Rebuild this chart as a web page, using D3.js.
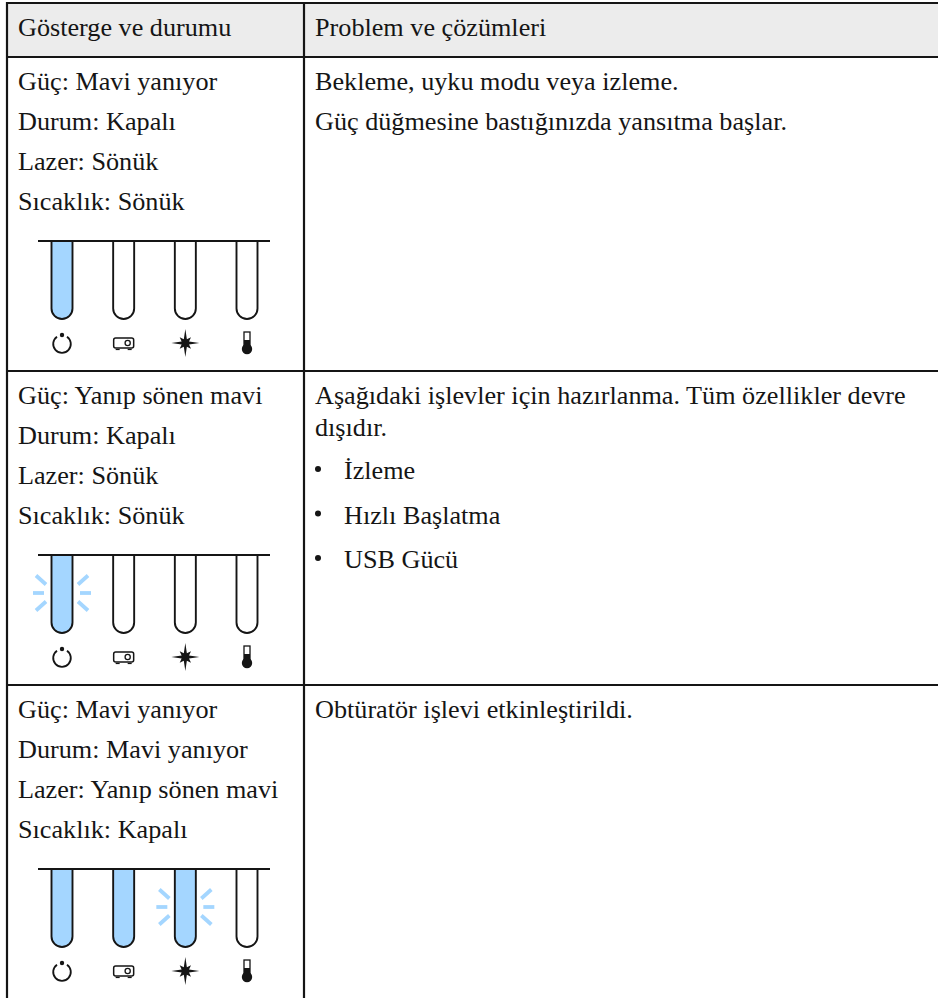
<!DOCTYPE html>
<html>
<head>
<meta charset="utf-8">
<script src="https://cdn.jsdelivr.net/npm/d3@7"></script>
<style>
html, body { margin: 0; padding: 0; background: #fff; }
svg { display: block; }
text { font-family: "Liberation Serif", serif; font-size: 26.2px; fill: #151515; }
</style>
</head>
<body>
<div id="chart"></div>
<script>
// table content
var headers = ["Gösterge ve durumu", "Problem ve çözümleri"];
var statusLines = [
  ["Güç: Mavi yanıyor", "Durum: Kapalı", "Lazer: Sönük", "Sıcaklık: Sönük"],
  ["Güç: Yanıp sönen mavi", "Durum: Kapalı", "Lazer: Sönük", "Sıcaklık: Sönük"],
  ["Güç: Mavi yanıyor", "Durum: Mavi yanıyor", "Lazer: Yanıp sönen mavi", "Sıcaklık: Kapalı"]
];
var problemLines = [
  ["Bekleme, uyku modu veya izleme.", "Güç düğmesine bastığınızda yansıtma başlar."],
  ["Aşağıdaki işlevler için hazırlanma. Tüm özellikler devre", "dışıdır."],
  ["Obtüratör işlevi etkinleştirildi."]
];
var bulletLines = [[], ["İzleme", "Hızlı Başlatma", "USB Gücü"], []];

// indicator states, one per lamp: 0 off, 1 on, 2 flashing
var leds = ["power", "status", "laser", "temp"];
var ledStates = [
  [1, 0, 0, 0],
  [2, 0, 0, 0],
  [1, 1, 2, 0]
];

var width = 938, height = 998;
var blue = "#a4d6ff", ink = "#151515";

var rowTop = [57, 371, 685];
var textTop = [90, 404, 718];
var diagramTop = [241, 555, 869];

var x = d3.scalePoint().domain(leds).range([62, 247]);

var svg = d3.select("#chart").append("svg")
  .attr("width", width)
  .attr("height", height);

// header band
svg.append("rect")
  .attr("x", 7).attr("y", 3)
  .attr("width", width - 7).attr("height", 54)
  .attr("fill", "#ececec");

// grid lines
function rule(x1, y1, x2, y2) {
  svg.append("line")
    .attr("x1", x1).attr("y1", y1).attr("x2", x2).attr("y2", y2)
    .attr("stroke", ink).attr("stroke-width", 2.2);
}
rule(6, 3, width, 3);
rowTop.forEach(function(y) { rule(6, y, width, y); });
rule(7, 2, 7, height);
rule(304, 2, 304, height);

// text
svg.append("text").attr("x", 18).attr("y", 36).text(headers[0]);
svg.append("text").attr("x", 315).attr("y", 36).text(headers[1]);

statusLines.forEach(function(lines, r) {
  svg.selectAll(null).data(lines).enter().append("text")
    .attr("x", 18)
    .attr("y", function(d, i) { return textTop[r] + i * 40; })
    .text(function(d) { return d; });
});

problemLines.forEach(function(lines, r) {
  var step = r == 1 ? 32 : 40;
  svg.selectAll(null).data(lines).enter().append("text")
    .attr("x", 315)
    .attr("y", function(d, i) { return textTop[r] + i * step; })
    .text(function(d) { return d; });
  bulletLines[r].forEach(function(d, i) {
    var y = textTop[r] + 75 + i * 44.5;
    svg.append("circle").attr("cx", 318).attr("cy", y - 10).attr("r", 3).attr("fill", ink);
    svg.append("text").attr("x", 344).attr("y", y).text(d);
  });
});

// one lamp tube hanging off the top line
function tubePath(cx, top) {
  var r = 10.5, bottom = top + 78;
  return "M" + (cx - r) + "," + top + "V" + (bottom - r) +
    "A" + r + "," + r + " 0 0 0 " + (cx + r) + "," + (bottom - r) + "V" + top;
}

// blink rays either side of a tube
function flash(g, cx, top) {
  var cy = top + 38;
  [-1, 1].forEach(function(side) {
    [[18, 29, 0, 0], [16, 26, -8.5, -17.5], [16, 26, 8.5, 17.5]].forEach(function(s) {
      g.append("line")
        .attr("x1", cx + side * s[0]).attr("y1", cy + s[2])
        .attr("x2", cx + side * s[1]).attr("y2", cy + s[3])
        .attr("stroke", blue).attr("stroke-width", 3.8);
    });
  });
}

// small icons under the tubes
function powerIcon(g, cx, cy) {
  g.append("path").attr("d", d3.arc().innerRadius(8.8).outerRadius(8.8)
      .startAngle(0.6).endAngle(2 * Math.PI - 0.6)())
    .attr("transform", "translate(" + cx + "," + (cy + 1) + ")")
    .attr("fill", "none").attr("stroke", ink).attr("stroke-width", 1.8);
  g.append("circle").attr("cx", cx).attr("cy", cy - 8).attr("r", 2.2).attr("fill", ink);
}
function projectorIcon(g, cx, cy) {
  g.append("rect").attr("x", cx - 10).attr("y", cy - 5).attr("width", 20).attr("height", 10).attr("rx", 2)
    .attr("fill", "#fff").attr("stroke", ink).attr("stroke-width", 1.5);
  g.append("circle").attr("cx", cx + 4).attr("cy", cy).attr("r", 2.6)
    .attr("fill", "#fff").attr("stroke", ink).attr("stroke-width", 1.3);
  [-6, 6].forEach(function(o) {
    g.append("line").attr("x1", cx + o - 2).attr("x2", cx + o + 2).attr("y1", cy + 6.5).attr("y2", cy + 6.5)
      .attr("stroke", ink).attr("stroke-width", 1.2);
  });
}
function laserIcon(g, cx, cy) {
  var pts = d3.range(16).map(function(i) {
    var a = i * Math.PI / 8;
    var r = i % 4 == 0 ? 14 : (i % 2 == 0 ? 8 : 4);
    return [cx + r * Math.sin(a), cy - r * Math.cos(a)];
  });
  g.append("path").attr("d", d3.line()(pts) + "Z").attr("fill", ink);
}
function tempIcon(g, cx, cy) {
  g.append("rect").attr("x", cx - 3).attr("y", cy - 11).attr("width", 6).attr("height", 15)
    .attr("fill", "#fff").attr("stroke", ink).attr("stroke-width", 1.3);
  g.append("rect").attr("x", cx - 3).attr("y", cy - 3).attr("width", 6).attr("height", 8).attr("fill", ink);
  g.append("circle").attr("cx", cx).attr("cy", cy + 6).attr("r", 5.2).attr("fill", ink);
}
var icons = [powerIcon, projectorIcon, laserIcon, tempIcon];

ledStates.forEach(function(states, r) {
  var top = diagramTop[r];
  var g = svg.append("g");
  states.forEach(function(state, i) {
    var cx = x(leds[i]);
    if (state == 2) flash(g, cx, top);
    g.append("path")
      .attr("d", tubePath(cx, top))
      .attr("fill", state ? blue : "#fff")
      .attr("stroke", ink).attr("stroke-width", 1.9);
    icons[i](g, cx, top + 102);
  });
  g.append("line")
    .attr("x1", 38).attr("x2", 270).attr("y1", top).attr("y2", top)
    .attr("stroke", ink).attr("stroke-width", 1.9);
});
</script>
</body>
</html>
